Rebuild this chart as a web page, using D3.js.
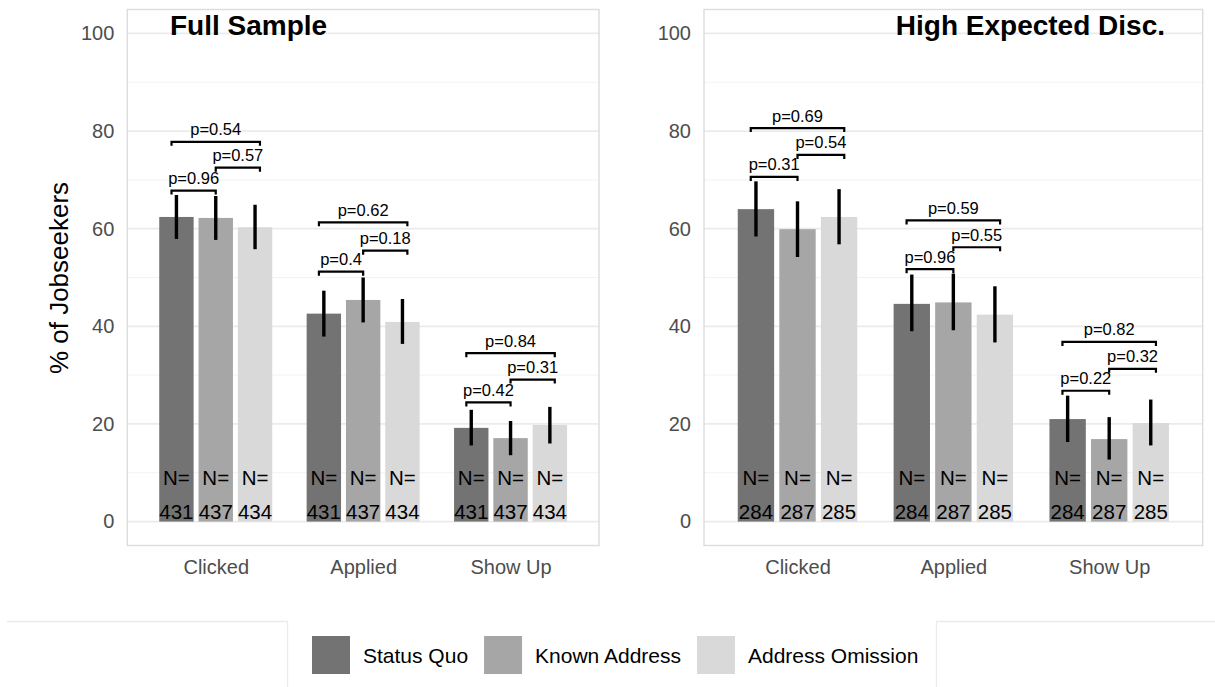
<!DOCTYPE html>
<html>
<head>
<meta charset="utf-8">
<script src="https://cdn.jsdelivr.net/npm/d3@7"></script>
<style>
  body { margin: 0; background: #fff; }
  svg { display: block; font-family: "Liberation Sans", Arial, sans-serif; }
</style>
</head>
<body>
<div id="viz"></div>
<script>
// ---- data ----
const outcomes = ["Clicked", "Applied", "Show Up"];
const treatments = ["Status Quo", "Known Address", "Address Omission"];
const colors = ["#737373", "#a6a6a6", "#d9d9d9"];

// Full sample: rows = outcome, cols = treatment
const fullMeans = [[62.4, 62.2, 60.3], [42.6, 45.4, 40.9], [19.2, 17.1, 19.8]];
const fullLow   = [[57.9, 57.7, 55.8], [37.9, 40.8, 36.4], [15.6, 13.6, 16.0]];
const fullHigh  = [[66.9, 66.7, 64.9], [47.3, 50.0, 45.6], [22.9, 20.6, 23.5]];
const fullN     = [431, 437, 434];
// comparisons: [SQ vs KA, KA vs AO, SQ vs AO]
const fullP       = [["0.96", "0.57", "0.54"], ["0.4", "0.18", "0.62"], ["0.42", "0.31", "0.84"]];
const fullBracket = [[67.8, 72.5, 77.8], [51.2, 55.5, 61.3], [24.4, 29.1, 34.5]];

// High expected discrimination
const highMeans = [[64.0, 59.9, 62.4], [44.6, 44.9, 42.4], [21.0, 16.9, 20.2]];
const highLow   = [[58.4, 54.2, 56.8], [39.0, 39.2, 36.7], [16.3, 12.7, 15.6]];
const highHigh  = [[69.7, 65.6, 68.1], [50.6, 50.8, 48.2], [25.8, 21.4, 25.0]];
const highN     = [284, 287, 285];
const highP       = [["0.31", "0.54", "0.69"], ["0.96", "0.55", "0.59"], ["0.22", "0.32", "0.82"]];
const highBracket = [[70.6, 75.1, 80.6], [51.7, 56.2, 61.7], [26.8, 31.3, 36.8]];

const comparisons = [[0, 1], [1, 2], [0, 2]];
const yTicks = [0, 20, 40, 60, 80, 100];
const yMinor = [10, 30, 50, 70, 90];

const W = 1215, H = 687;
const svg = d3.select("#viz").append("svg")
  .attr("width", W)
  .attr("height", H);

const y = d3.scaleLinear().domain([-5, 105]).range([546, 9]);

function drawPanel(cfg) {
  const g = svg.append("g");
  const x = d3.scalePoint().domain(outcomes).range([cfg.x0, cfg.x1]).padding(0.6);
  const step = x.step();
  const dodge = d3.scaleBand().domain(d3.range(3))
    .range([-0.4 * step, 0.4 * step])
    .paddingInner(0.125).paddingOuter(0.0625);
  const bracketOffset = [-0.3, 0, 0.3];

  // grid
  g.selectAll(".minor").data(yMinor).join("line")
    .attr("x1", cfg.x0).attr("x2", cfg.x1)
    .attr("y1", d => y(d)).attr("y2", d => y(d))
    .attr("stroke", "#f2f2f2").attr("stroke-width", 1);
  g.selectAll(".major").data(yTicks).join("line")
    .attr("x1", cfg.x0).attr("x2", cfg.x1)
    .attr("y1", d => y(d)).attr("y2", d => y(d))
    .attr("stroke", "#ebebeb").attr("stroke-width", 1.8);

  // bars
  const rows = [];
  outcomes.forEach((o, i) => {
    treatments.forEach((t, j) => {
      rows.push({o, i, j, mean: cfg.means[i][j], lo: cfg.low[i][j], hi: cfg.high[i][j], n: cfg.n[j]});
    });
  });

  g.selectAll(".bar").data(rows).join("rect")
    .attr("x", d => x(d.o) + dodge(d.j))
    .attr("width", dodge.bandwidth())
    .attr("y", d => y(d.mean))
    .attr("height", d => y(0) - y(d.mean))
    .attr("fill", d => colors[d.j]);

  // error bars
  g.selectAll(".err").data(rows).join("line")
    .attr("x1", d => x(d.o) + dodge(d.j) + dodge.bandwidth() / 2)
    .attr("x2", d => x(d.o) + dodge(d.j) + dodge.bandwidth() / 2)
    .attr("y1", d => y(d.lo)).attr("y2", d => y(d.hi))
    .attr("stroke", "#000").attr("stroke-width", 3.4);

  // N labels
  g.selectAll(".nlab").data(rows).join("text")
    .attr("x", d => x(d.o) + dodge(d.j) + dodge.bandwidth() / 2)
    .attr("y", y(0) - 37)
    .attr("text-anchor", "middle")
    .style("font-size", "20.5px")
    .attr("fill", "#000")
    .text("N=");
  g.selectAll(".nval").data(rows).join("text")
    .attr("x", d => x(d.o) + dodge(d.j) + dodge.bandwidth() / 2)
    .attr("y", y(0) - 3)
    .attr("text-anchor", "middle")
    .style("font-size", "20.5px")
    .attr("fill", "#000")
    .text(d => d.n);

  // significance brackets
  const br = [];
  outcomes.forEach((o, i) => {
    comparisons.forEach((c, k) => {
      br.push({
        xa: x(o) + bracketOffset[c[0]] * step,
        xb: x(o) + bracketOffset[c[1]] * step,
        yv: y(cfg.bracket[i][k]),
        p: cfg.p[i][k]
      });
    });
  });
  g.selectAll(".br").data(br).join("path")
    .attr("d", d => `M${d.xa},${d.yv + 4}V${d.yv}H${d.xb}V${d.yv + 4}`)
    .attr("fill", "none")
    .attr("stroke", "#000")
    .attr("stroke-width", 2.2);
  g.selectAll(".brl").data(br).join("text")
    .attr("x", d => (d.xa + d.xb) / 2)
    .attr("y", d => d.yv - 6.5)
    .attr("text-anchor", "middle")
    .style("font-size", "16.5px")
    .attr("fill", "#000")
    .text(d => "p=" + d.p);

  // panel border
  g.append("rect")
    .attr("x", cfg.x0).attr("y", 9.5)
    .attr("width", cfg.x1 - cfg.x0).attr("height", 536)
    .attr("fill", "none")
    .attr("stroke", "#dcdcdc")
    .attr("stroke-width", 1.4);

  // axes
  const yAxis = g.append("g")
    .attr("transform", `translate(${cfg.x0},0)`)
    .call(d3.axisLeft(y).tickValues(yTicks).tickSize(0).tickPadding(13));
  yAxis.select(".domain").remove();
  yAxis.selectAll("text")
    .style("font-size", "20px")
    .style("font-family", "Liberation Sans, Arial, sans-serif")
    .attr("fill", "#4d4d4d");

  const xAxis = g.append("g")
    .attr("transform", "translate(0,546)")
    .call(d3.axisBottom(x).tickSize(0).tickPadding(14));
  xAxis.select(".domain").remove();
  xAxis.selectAll("text")
    .style("font-size", "20px")
    .style("font-family", "Liberation Sans, Arial, sans-serif")
    .attr("fill", "#4d4d4d");

  // panel title
  g.append("text")
    .attr("x", cfg.titleX)
    .attr("y", 35)
    .attr("text-anchor", cfg.titleAnchor)
    .style("font-size", "28px")
    .style("font-weight", "bold")
    .attr("fill", "#000")
    .text(cfg.title);
}

drawPanel({
  x0: 127.3, x1: 599, title: "Full Sample", titleX: 170, titleAnchor: "start",
  means: fullMeans, low: fullLow, high: fullHigh, n: fullN, p: fullP, bracket: fullBracket
});
drawPanel({
  x0: 704, x1: 1202.7, title: "High Expected Disc.", titleX: 1165, titleAnchor: "end",
  means: highMeans, low: highLow, high: highHigh, n: highN, p: highP, bracket: highBracket
});

// y axis title
svg.append("text")
  .attr("transform", "translate(68,278) rotate(-90)")
  .attr("text-anchor", "middle")
  .style("font-size", "26px")
  .attr("fill", "#000")
  .text("% of Jobseekers");

// legend frame
svg.append("path")
  .attr("d", "M7,621.5H287.5V687M936.5,687V621.5H1215")
  .attr("fill", "none")
  .attr("stroke", "#ebebeb")
  .attr("stroke-width", 1.3);

const legend = svg.append("g").attr("transform", "translate(312,636)");
let lx = 0;
treatments.forEach((t, i) => {
  const item = legend.append("g").attr("transform", `translate(${lx},0)`);
  item.append("rect")
    .attr("width", 38).attr("height", 38)
    .attr("fill", colors[i]);
  const txt = item.append("text")
    .attr("x", 51)
    .attr("y", 26.5)
    .style("font-size", "21px")
    .attr("fill", "#000")
    .text(t);
  lx += 51 + txt.node().getComputedTextLength() + 16;
});
</script>
</body>
</html>
